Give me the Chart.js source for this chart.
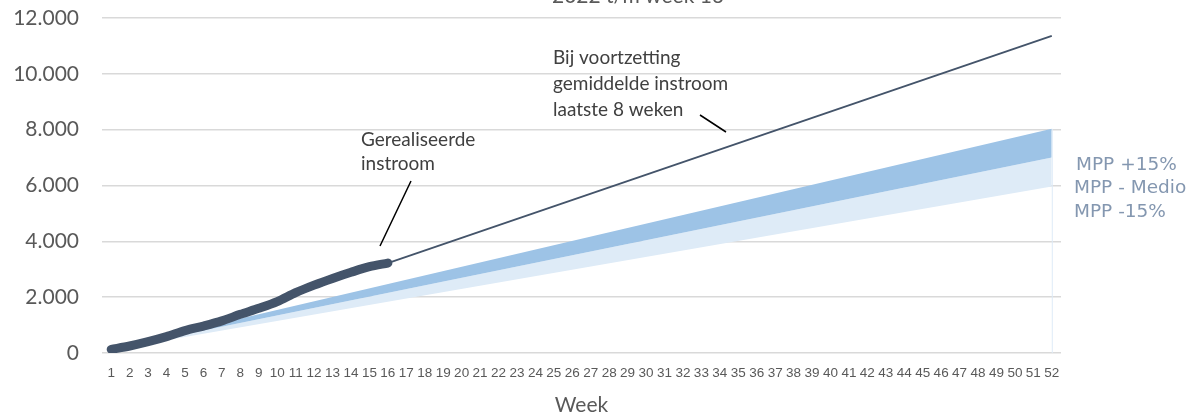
<!DOCTYPE html>
<html>
<head>
<meta charset="utf-8">
<script src="https://cdn.jsdelivr.net/npm/chart.js@4/dist/chart.umd.min.js"></script>
<style>
    body { margin: 0; background: #fff; }
    #wrap { width: 1190px; height: 418px; }
</style>
</head>
<body>
<div id="wrap"><canvas id="chart" width="1190" height="418"></canvas></div>
<script>
// Week labels on the x axis
const weeks = ['1','2','3','4','5','6','7','8','9','10','11','12','13','14','15','16','17','18','19','20',
    '21','22','23','24','25','26','27','28','29','30','31','32','33','34','35','36','37','38','39','40',
    '41','42','43','44','45','46','47','48','49','50','51','52'];

// Gerealiseerde instroom, week 1 t/m 16
const realised = [130, 250, 405, 585, 800, 965, 1150, 1385, 1600, 1840, 2160, 2430, 2670, 2890, 3090, 3220];

// Voortzetting gemiddelde instroom: start (week 16) and end (week 52)
const projStart = 3220;
const projEnd = 11360;

// MPP bands: value at week 1 and week 52
const mppPlus = [155, 8030];
const mppMedio = [135, 7000];
const mppMin = [115, 5960];

const yTicks = [0, 2000, 4000, 6000, 8000, 10000, 12000];

// helpers to spread the few known values over the 52 weeks (gaps are spanned by the line)
function padded(values) {
    const out = weeks.map(() => null);
    values.forEach((v, i) => { out[i] = v; });
    return out;
}
function endpoints(startIdx, a, b) {
    const out = weeks.map(() => null);
    out[startIdx] = a;
    out[weeks.length - 1] = b;
    return out;
}

function fmt(v) {
    return String(v).replace(/\B(?=(\d{3})+(?!\d))/g, '.');
}

const dark = '#44546A';

const annotations = {
    id: 'annotations',
    afterDraw(chart) {
        const ctx = chart.ctx;
        ctx.save();
        // title, cut off at the top edge
        ctx.fillStyle = '#595959';
        ctx.font = '21px Lato';
        ctx.textAlign = 'center';
        ctx.textBaseline = 'alphabetic';
        ctx.fillText('2022 t/m week 16', 638, 3);

        // text labels
        ctx.textAlign = 'left';
        ctx.fillStyle = '#404040';
        ctx.font = '19px Lato';
        ctx.fillText('Gerealiseerde', 361, 146);
        ctx.fillText('instroom', 361, 170);
        ctx.fillText('Bij voortzetting', 553, 64);
        ctx.fillText('gemiddelde instroom', 553, 90);
        ctx.fillText('laatste 8 weken', 553, 116);

        // leader lines
        ctx.strokeStyle = '#000';
        ctx.lineWidth = 1.5;
        ctx.beginPath();
        ctx.moveTo(411, 181); ctx.lineTo(380, 246);
        ctx.moveTo(700, 115); ctx.lineTo(726, 132);
        ctx.stroke();

        // MPP labels on the right
        ctx.fillStyle = '#8497B0';
        ctx.font = '18.5px "DejaVu Sans"';
        ctx.fillText('MPP +15%', 1076, 170);
        ctx.fillText('MPP - Medio', 1074, 193);
        ctx.fillText('MPP -15%', 1074, 217);

        // edge of the band area at week 52
        const x = chart.scales.x.getPixelForValue(weeks.length - 1);
        const yTop = chart.scales.y.getPixelForValue(mppPlus[1]);
        const yBot = chart.scales.y.getPixelForValue(0);
        ctx.strokeStyle = '#DEEBF7';
        ctx.lineWidth = 1;
        ctx.beginPath();
        ctx.moveTo(x + 0.5, yTop); ctx.lineTo(x + 0.5, yBot);
        ctx.stroke();
        ctx.restore();
    }
};

const ctx = document.getElementById('chart').getContext('2d');
new Chart(ctx, {
    type: 'line',
    data: {
        labels: weeks,
        datasets: [
            {
                label: 'Gerealiseerde instroom',
                data: padded(realised),
                borderColor: dark,
                borderWidth: 9,
                borderCapStyle: 'round',
                borderJoinStyle: 'round',
                tension: 0.3,
                pointRadius: 0,
                fill: false
            },
            {
                label: 'Bij voortzetting',
                data: endpoints(realised.length - 1, projStart, projEnd),
                borderColor: dark,
                borderWidth: 1.8,
                pointRadius: 0,
                spanGaps: true,
                fill: false
            },
            {
                label: 'MPP +15%',
                data: endpoints(0, mppPlus[0], mppPlus[1]),
                borderWidth: 0,
                borderColor: 'rgba(0,0,0,0)',
                backgroundColor: '#9DC3E6',
                pointRadius: 0,
                spanGaps: true,
                fill: '+1'
            },
            {
                label: 'MPP - Medio',
                data: endpoints(0, mppMedio[0], mppMedio[1]),
                borderWidth: 0,
                borderColor: 'rgba(0,0,0,0)',
                backgroundColor: '#DEEBF7',
                pointRadius: 0,
                spanGaps: true,
                fill: '+1'
            },
            {
                label: 'MPP -15%',
                data: endpoints(0, mppMin[0], mppMin[1]),
                borderWidth: 0,
                borderColor: 'rgba(0,0,0,0)',
                pointRadius: 0,
                spanGaps: true,
                fill: false
            }
        ]
    },
    options: {
        responsive: false,
        animation: false,
        layout: { padding: { top: 18, right: 129, bottom: 0, left: 0 } },
        plugins: {
            legend: { display: false },
            tooltip: { enabled: false }
        },
        scales: {
            x: {
                offset: true,
                grid: { display: false, drawTicks: false },
                border: { display: false },
                ticks: {
                    color: '#595959',
                    font: { family: '"Liberation Sans", Arial, sans-serif', size: 13.5 },
                    padding: 12,
                    maxRotation: 0,
                    autoSkip: false
                },
                title: {
                    display: true,
                    text: 'Week',
                    color: '#595959',
                    font: { family: 'Lato', size: 21 },
                    padding: 0
                },
                afterFit(scale) { scale.height = 65; }
            },
            y: {
                min: 0,
                max: 12000,
                afterBuildTicks(scale) { scale.ticks = yTicks.map(v => ({ value: v })); },
                // invisible tick marks give the gap between the labels and the plot
                grid: { color: '#D9D9D9', lineWidth: 1.5, drawTicks: true, tickLength: 23, tickColor: 'rgba(0,0,0,0)' },
                border: { display: false },
                ticks: {
                    color: '#595959',
                    font: { family: 'Lato', size: 21 },
                    padding: 0,
                    callback: v => fmt(v)
                },
                afterFit(scale) { scale.width = 102; }
            }
        }
    },
    plugins: [annotations]
});
</script>
</body>
</html>
